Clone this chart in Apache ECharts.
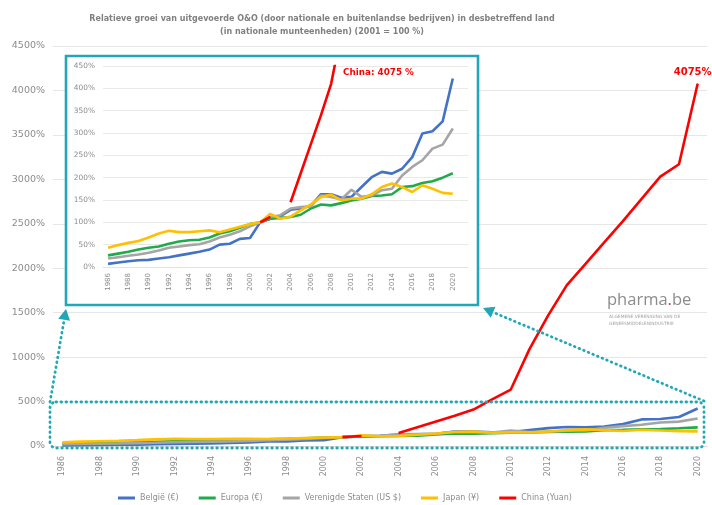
<!DOCTYPE html>
<html>
<head>
<meta charset="utf-8">
<script src="https://cdn.jsdelivr.net/npm/echarts@6/dist/echarts.min.js"></script>
<style>
  html, body { margin: 0; padding: 0; background: #ffffff; }
  #chart { width: 712px; height: 505px; }
</style>
</head>
<body>
<div id="chart"></div>
<script>
// Years 1986–2020
const years = ['1986','1987','1988','1989','1990','1991','1992','1993','1994','1995',
  '1996','1997','1998','1999','2000','2001','2002','2003','2004','2005',
  '2006','2007','2008','2009','2010','2011','2012','2013','2014','2015',
  '2016','2017','2018','2019','2020'];

// Index of R&D spending, 2001 = 100 %
const belgie = [7,10,13,15,16,19,22,26,30,34,39,50,52,63,65,100,108,114,128,131,
  137,163,163,155,157,179,201,213,209,220,246,299,304,326,422];
const europa = [26,30,34,39,43,46,52,57,60,61,66,75,80,88,96,100,108,110,112,117,
  131,140,138,143,149,153,159,160,163,179,181,188,192,200,210];
const vs = [19,22,25,28,32,37,43,46,49,51,57,66,72,80,91,100,112,116,131,134,
  136,160,157,151,173,157,160,172,175,205,224,239,265,274,310];
const japan = [43,49,54,58,66,75,81,78,78,80,82,78,84,90,96,100,119,108,113,127,
  140,157,162,149,153,153,163,179,187,179,168,183,175,166,164];
const china = [null,null,null,null,null,null,null,null,null,null,
  null,null,null,null,null,100,112,null,145,210,
  275,340,410,525,635,1090,1470,1810,2050,2290,2530,2780,3030,3170,4075];

const seriesNames = ['België (€)', 'Europa (€)', 'Verenigde Staten (US $)', 'Japan (¥)', 'China (Yuan)'];
const seriesColors = ['#4472c4', '#1fab4b', '#a5a5a5', '#ffc000', '#ff0000'];
const seriesValues = [belgie, europa, vs, japan, china];

// Axis ranges
const mainMax = 4500, mainStep = 500;
const insetMax = 450, insetStep = 50;

const chinaLast = china[china.length - 1];
const insetYears = years.concat(['']);

const gray = '#8c8c8c';
const teal = '#21a8b6';
const font = 'DejaVu Sans';
const pct = v => v + '%';

const chart = echarts.init(document.getElementById('chart'), null, { renderer: 'canvas' });

function lineSeries(gridIdx, i) {
  let data = seriesValues[i];
  const labelled = gridIdx === 0 && i === 4;
  if (labelled) {
    data = data.map((v, k) => k === data.length - 1 ? {
      value: v,
      label: {
        show: true, position: 'top', offset: [-5, -1],
        formatter: () => v + '%',
        color: '#ff0000', fontWeight: 'bold', fontSize: 10, fontFamily: font
      }
    } : v);
  }
  return {
    name: seriesNames[i],
    type: 'line',
    xAxisIndex: gridIdx, yAxisIndex: gridIdx,
    data: data,
    showSymbol: labelled,
    symbol: labelled ? 'circle' : 'none',
    symbolSize: 1,
    connectNulls: false,
    clip: !labelled,
    z: 3,
    lineStyle: { color: seriesColors[i], width: 2.6 },
    itemStyle: { color: seriesColors[i] },
    emphasis: { disabled: true },
    animation: false
  };
}

const series = [];
for (let i = 0; i < 5; i++) series.push(lineSeries(0, i));
for (let i = 0; i < 5; i++) series.push(lineSeries(1, i));

// dotted callout geometry
const dotted = { stroke: teal, lineWidth: 2.8, lineDash: [0.6, 4.4], lineCap: 'round', fill: null };
function arrowHead(from, tip, len, half) {
  const dx = tip[0] - from[0], dy = tip[1] - from[1];
  const d = Math.hypot(dx, dy), ux = dx / d, uy = dy / d;
  const bx = tip[0] - ux * len, by = tip[1] - uy * len;
  return [tip, [bx - uy * half, by + ux * half], [bx + uy * half, by - ux * half]];
}
const leftFrom = [50, 402], leftTip = [66, 309];
const rightFrom = [704, 401], rightTip = [483, 308];
const lh = arrowHead(leftFrom, leftTip, 11, 6);
const rh = arrowHead(rightFrom, rightTip, 11, 6);
const lBase = [(lh[1][0] + lh[2][0]) / 2, (lh[1][1] + lh[2][1]) / 2];
const rBase = [(rh[1][0] + rh[2][0]) / 2, (rh[1][1] + rh[2][1]) / 2];

const option = {
  backgroundColor: '#ffffff',
  animation: false,
  textStyle: { fontFamily: font },
  legend: {
    data: seriesNames,
    left: 113, top: 489,
    itemWidth: 17, itemHeight: 3, itemGap: 20,
    icon: 'rect',
    textStyle: { color: gray, fontSize: 8, fontFamily: font },
    selectedMode: false
  },
  grid: [
    { left: 53, right: 5, top: 46, bottom: 59 },
    { left: 103, right: 244, top: 66, bottom: 238 }
  ],
  xAxis: [
    {
      type: 'category', gridIndex: 0, data: years, boundaryGap: true,
      axisLine: { show: true, lineStyle: { color: '#d9d9d9' } },
      axisTick: { show: false },
      axisLabel: { interval: 1, rotate: 90, color: gray, fontSize: 8, margin: 10, fontFamily: font }
    },
    {
      type: 'category', gridIndex: 1, data: insetYears, boundaryGap: true, z: 2,
      axisLine: { show: true, lineStyle: { color: '#e3e3e3' } },
      axisTick: { show: false },
      axisLabel: { interval: 1, rotate: 90, color: gray, fontSize: 7, margin: 6, fontFamily: font }
    }
  ],
  yAxis: [
    {
      type: 'value', gridIndex: 0, min: 0, max: mainMax, interval: mainStep, z: 0,
      axisLine: { show: false }, axisTick: { show: false },
      splitLine: { lineStyle: { color: '#e6e6e6', width: 1 } },
      axisLabel: { formatter: pct, color: gray, fontSize: 9.5, margin: 8, fontFamily: font }
    },
    {
      type: 'value', gridIndex: 1, min: 0, max: insetMax, interval: insetStep, z: 2,
      axisLine: { show: false }, axisTick: { show: false },
      splitLine: { lineStyle: { color: '#e9e9e9', width: 1 } },
      axisLabel: { formatter: pct, color: gray, fontSize: 7.4, margin: 8, fontFamily: font }
    }
  ],
  series: series,
  graphic: [
    // title
    {
      type: 'text', x: 322, y: 12, z: 10,
      style: {
        text: 'Relatieve groei van uitgevoerde O&O (door nationale en buitenlandse bedrijven) in desbetreffend land\n(in nationale munteenheden) (2001 = 100 %)',
        align: 'center', fill: '#808080', font: 'bold 8px "DejaVu Sans"', lineHeight: 13
      }
    },
    // inset panel
    {
      type: 'rect', z: 1,
      shape: { x: 66, y: 56, width: 412, height: 249 },
      style: { fill: '#ffffff', stroke: teal, lineWidth: 2.6 }
    },
    {
      type: 'text', x: 343, y: 68, z: 10,
      style: { text: 'China: ' + chinaLast + ' %', fill: '#ff0000', font: 'bold 8.8px "DejaVu Sans"' }
    },
    // dotted selection around the low range, with arrows to the inset
    {
      type: 'rect', z: 8,
      shape: { x: 50, y: 402, width: 654, height: 46, r: 6 },
      style: Object.assign({}, dotted)
    },
    { type: 'polyline', z: 8, shape: { points: [leftFrom, lBase] }, style: Object.assign({}, dotted) },
    { type: 'polyline', z: 8, shape: { points: [rightFrom, rBase] }, style: Object.assign({}, dotted) },
    { type: 'polygon', z: 8, shape: { points: lh }, style: { fill: teal } },
    { type: 'polygon', z: 8, shape: { points: rh }, style: { fill: teal } },
    // logo
    {
      type: 'text', x: 607, y: 292, z: 10,
      style: {
        text: '{a|pharma}{b|.}{a|be}',
        rich: {
          a: { fontFamily: 'Open Sans', fontSize: 16.5, fill: '#8c8c8c' },
          b: { fontFamily: 'Open Sans', fontSize: 16.5, fill: '#b03a7a' }
        }
      }
    },
    {
      type: 'text', x: 609, y: 313, z: 10,
      style: {
        text: 'ALGEMENE VERENIGING VAN DE\nGENEESMIDDELENINDUSTRIE',
        fill: '#a0a0a0', font: '4.4px "DejaVu Sans"', lineHeight: 7
      }
    }
  ]
};

chart.setOption(option);
</script>
</body>
</html>
